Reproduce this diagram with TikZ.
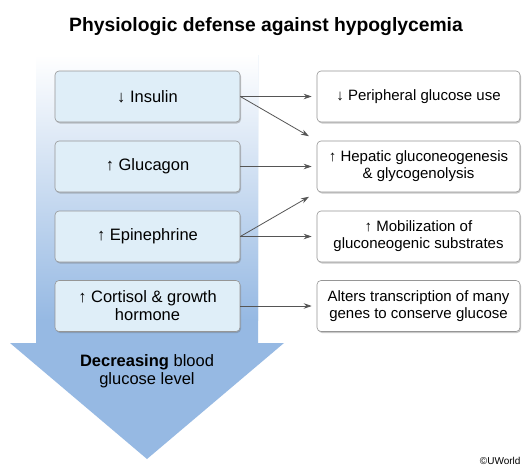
\documentclass[tikz,border=0pt]{standalone}
\usepackage{fontspec}
\setmainfont{Liberation Sans}
\usetikzlibrary{arrows.meta,shadows}
\definecolor{arrowblue}{RGB}{150,185,227}
\definecolor{boxfill}{RGB}{223,238,248}
\definecolor{boxline}{RGB}{150,150,150}
\definecolor{conn}{RGB}{85,85,85}
\tikzset{
  leftbox/.style={draw=boxline, fill=boxfill, rounded corners=4pt, minimum width=185pt, minimum height=51pt, inner sep=2pt, align=center, font=\fontsize{16.5}{18}\selectfont, line width=0.6pt, drop shadow={shadow xshift=1pt, shadow yshift=-1.5pt, opacity=0.35, fill=black!60}},
  rightbox/.style={leftbox, fill=white, minimum width=203pt, font=\fontsize{15}{17}\selectfont},
  conn/.style={draw=conn, line width=0.8pt, -{Stealth[length=8pt,width=5.5pt]}, shorten >=5pt},
}
\begin{document}
\begin{tikzpicture}[x=1pt,y=-1pt]
\useasboundingbox (0,0) rectangle (532,472);
\fill[white] (0,0) rectangle (532,472);
% big arrow
\fill[arrowblue] (36,55) -- (258,55) -- (258,343) -- (284,343) -- (147,459) -- (10,343) -- (36,343) -- cycle;
\shade[top color=white, bottom color=arrowblue] (36,55) rectangle (258,320);
\node[font=\fontsize{19.3}{22}\selectfont\bfseries] (title) at (266,27) {Physiologic defense against hypoglycemia};
% left boxes
\node[leftbox] (ins) at (147.5,96.5) {↓ Insulin};
\node[leftbox] (glu) at (147.5,166.5) {↑ Glucagon};
\node[leftbox] (epi) at (147.5,236.5) {↑ Epinephrine};
\node[leftbox] (cor) at (147.5,306) {↑ Cortisol \& growth\\hormone};
% right boxes
\node[rightbox] (per) at (418.5,96.5) {↓ Peripheral glucose use};
\node[rightbox] (hep) at (418.5,166.5) {↑ Hepatic gluconeogenesis\\\& glycogenolysis};
\node[rightbox] (mob) at (418.5,236.5) {↑ Mobilization of\\gluconeogenic substrates};
\node[rightbox] (alt) at (418.5,306) {Alters transcription of many\\genes to conserve glucose};
% label in arrow head
\node[align=center, font=\fontsize{16.5}{18.5}\selectfont] (dec) at (147,371) {\textbf{Decreasing} blood\\glucose level};
\node[font=\fontsize{10}{12}\selectfont, anchor=east] (copy) at (524,461) {©UWorld};
% connectors
\draw[conn] (ins.east) -- (per.west);
\draw[conn, shorten >=9pt] (ins.east) -- (hep.north west);
\draw[conn] (glu.east) -- (hep.west);
\draw[conn, shorten >=9pt] (epi.east) -- (hep.south west);
\draw[conn] (epi.east) -- (mob.west);
\draw[conn] (cor.east) -- (alt.west);
\end{tikzpicture}
\end{document}
